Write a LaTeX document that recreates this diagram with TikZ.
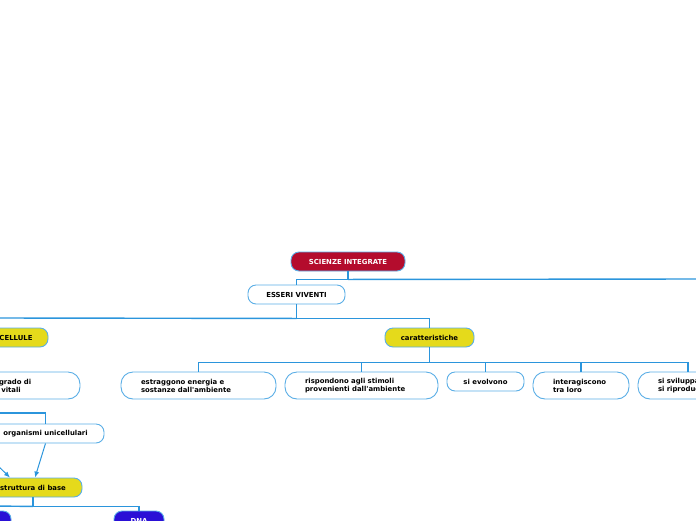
\documentclass[tikz,border=0pt]{standalone}
\usepackage{fontspec}
\newfontfamily\mapfont{DejaVu Sans}
\usepackage{tikz}
\usepackage{xcolor}
\usetikzlibrary{arrows.meta, positioning}
\definecolor{wire}{HTML}{2B95DC}
\definecolor{edge}{HTML}{5AAEE6}
\definecolor{crimson}{HTML}{B40C2D}
\definecolor{lemon}{HTML}{E5DA1B}
\definecolor{indigo}{HTML}{2A10D6}
\tikzstyle{topic} = [rectangle, 
rounded corners=8pt, 
draw=edge, line width=0.9pt, 
minimum height=19pt, 
inner xsep=0pt, inner ysep=0pt, 
text=black, font=\mapfont\bfseries\fontsize{6.9}{8}\selectfont]
\tikzstyle{link} = [draw=wire, line width=1.4pt]

\begin{document}
\begin{tikzpicture}[
        x=1pt, y=-1pt,
        % Estilos de los nodos del mapa
        rootbox/.style={topic, fill=crimson, text=white},
        keybox/.style={topic, fill=lemon},
        leafbox/.style={topic, fill=white},
        dnabox/.style={topic, fill=indigo, text=white},
        notebox/.style={leafbox, rounded corners=12pt, minimum height=27pt, align=left, inner xsep=20pt},
        pointer/.style={draw=wire, line width=1pt, -{Latex[length=6pt, width=5pt]}},
    ]
        \useasboundingbox (0,0) rectangle (696,520);
        \clip (0,0) rectangle (696,520);

        % 1. Raiz y primer nivel
        \node (root) [rootbox, minimum width=114pt] at (348,261.5) {SCIENZE INTEGRATE};
        \node (esseri) [leafbox, minimum width=97pt] at (296.5,294.5) {ESSERI VIVENTI};
        \coordinate (offR) at (700,279);
        \draw[link] (root.south) -- ++(0,8) coordinate (rb) -| (esseri.north);
        \draw[link] (rb) -- (offR);

        % 2. Cellule y caratteristiche
        \node (cellule) [keybox, minimum width=64pt] at (16,337.5) {CELLULE};
        \node (carat) [keybox, minimum width=89pt] at (429.5,337.5) {caratteristiche};
        \coordinate (offE) at (-5,318);
        \draw[link] (esseri.south) -- ++(0,14) coordinate (eb) -| (carat.north);
        \draw[link] (eb) -- (offE);

        % 3. Le caratteristiche dei viventi
        \node (estr) [notebox, text width=115pt] at (198.5,385.5) {estraggono energia e\\sostanze dall'ambiente};
        \node (risp) [notebox, text width=113pt] at (361.5,385.5) {rispondono agli stimoli\\provenienti dall'ambiente};
        \node (evolv) [leafbox, minimum width=77pt] at (485.5,381.5) {si evolvono};
        \node (inter) [notebox, text width=56pt] at (581,385.5) {interagiscono\\tra loro};
        \node (svil) [notebox, text width=60pt] at (688,385.5) {si sviluppano\\si riproducono};
        \draw[link] (carat.south) -- ++(0,15) coordinate (cb);
        \foreach \k in {estr, risp, evolv, inter, svil}
            \draw[link] (cb) -| (\k.north);

        % 4. Ramo delle cellule (tagliato a sinistra)
        \node (capaci) [notebox, text width=61pt] at (29.5,385.5) {grado di\\\ vitali};
        \node (orga) [leafbox, minimum width=117pt] at (45.5,433.5) {organismi unicellulari};
        \coordinate (offO) at (-5,413);
        \draw[link] (offO) -| (orga.north);

        % 5. Struttura di base
        \node (strutt) [keybox, minimum width=98pt] at (33,487.5) {struttura di base};
        \coordinate (offA) at (-8,460);
        \draw[pointer] (orga.south) -- ([xshift=2pt]strutt.north);
        \draw[pointer] (offA) -- ([xshift=-23pt]strutt.north);

        % 6. DNA
        \node (dna) [dnabox, minimum width=50pt] at (139,520.5) {DNA};
        \node (altro) [dnabox, minimum width=82pt] at (-30,520.5) {};
        \coordinate (offS) at (-5,506);
        \draw[link] (strutt.south) -- ++(0,9) coordinate (sb) -| (dna.north);
        \draw[link] (sb) -- (offS);

    \end{tikzpicture}
\end{document}
